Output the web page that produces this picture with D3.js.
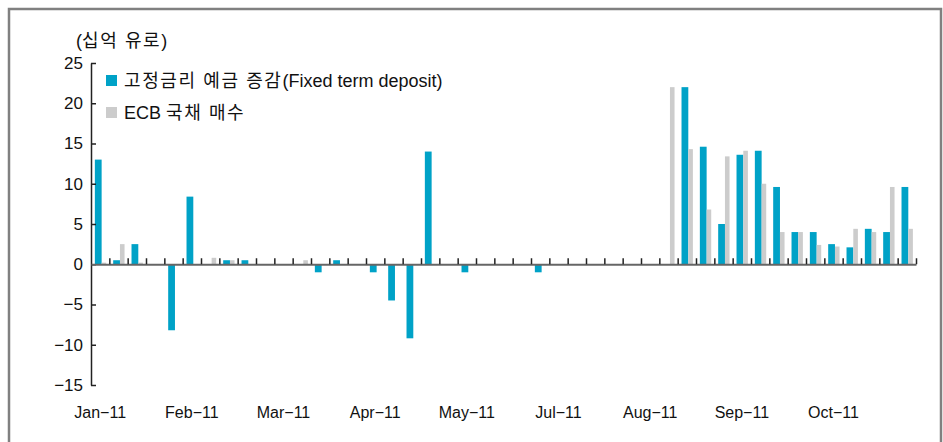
<!DOCTYPE html>
<html>
<head>
<meta charset="utf-8">
<script src="https://cdn.jsdelivr.net/npm/d3@7"></script>
<style>
  body { margin: 0; background: #fff; }
  text { font-family: "Liberation Sans", "Noto Sans CJK KR", sans-serif; fill: #111; }
</style>
</head>
<body>
<div id="chart"></div>
<script>
// weekly observations, Jan-11 .. Oct-11 (45 weeks)
var weeks = d3.range(45);
var monthLabels = ["Jan−11", "Feb−11", "Mar−11", "Apr−11", "May−11", "Jul−11", "Aug−11", "Sep−11", "Oct−11"];
var labelWeeks = [0, 5, 10, 15, 20, 25, 30, 35, 40];
var seriesNames = ["고정금리 예금 증감(Fixed term deposit)", "ECB 국채 매수"];

var fixedDeposit = [
  13.0, 0.5, 2.5, 0, -8.2, 8.4, 0, 0.5, 0.5, 0,
  0, 0, -1.0, 0.5, 0, -1.0, -4.5, -9.2, 14.0, 0,
  -1.0, 0, 0, 0, -1.0, 0, 0, 0, 0, 0,
  0, 0, 22.0, 14.6, 5.0, 13.6, 14.1, 9.6, 4.0, 4.0,
  2.5, 2.1, 4.4, 4.0, 9.6
];
var ecbBuying = [
  0.2, 2.5, 0.2, 0, 0, 0, 0.8, 0.5, 0, 0,
  0, 0.5, 0, 0, 0, 0, 0, 0, 0, 0,
  0, 0, 0, 0, 0, 0, 0, 0, 0, 0,
  0, 22.0, 14.3, 6.8, 13.4, 14.1, 10.0, 4.0, 4.0, 2.4,
  2.2, 4.4, 4.0, 9.6, 4.4
];
var yTicks = [-15, -10, -5, 0, 5, 10, 15, 20, 25];

var W = 943, H = 442;
var colors = ["#00a2c7", "#cccccc"];

var svg = d3.select("#chart").append("svg")
  .attr("width", W).attr("height", H);

// outer frame
svg.append("rect")
  .attr("x", 9).attr("y", 9).attr("width", 932).attr("height", 450)
  .attr("fill", "none").attr("stroke", "#808080").attr("stroke-width", 2.5);

var x = d3.scaleBand().domain(weeks).range([91, 916]).padding(0);
var y = d3.scaleLinear().domain([-15, 25]).range([385, 63]);
var bw = x.bandwidth();

// bars: teal then grey, side by side within each week
var g = svg.append("g");
g.selectAll("rect.fd").data(weeks).enter().append("rect")
  .attr("class", "fd")
  .attr("x", function (d) { return x(d) + bw * 0.21; })
  .attr("width", bw * 0.37)
  .attr("y", function (d) { return y(Math.max(0, fixedDeposit[d])); })
  .attr("height", function (d) { return Math.abs(y(fixedDeposit[d]) - y(0)); })
  .attr("fill", colors[0]);
g.selectAll("rect.ecb").data(weeks).enter().append("rect")
  .attr("class", "ecb")
  .attr("x", function (d) { return x(d) + bw * 0.58; })
  .attr("width", bw * 0.25)
  .attr("y", function (d) { return y(Math.max(0, ecbBuying[d])); })
  .attr("height", function (d) { return Math.abs(y(ecbBuying[d]) - y(0)); })
  .attr("fill", colors[1]);

// y axis, ticks pointing inward
var yAxis = svg.append("g").attr("transform", "translate(91,0)")
  .call(d3.axisLeft(y).tickValues(yTicks).tickSizeInner(-5).tickSizeOuter(0).tickPadding(8)
    .tickFormat(function (d) { return d < 0 ? "−" + Math.abs(d) : d; }));
yAxis.select(".domain").attr("stroke", "#222").attr("stroke-width", 1.5);
yAxis.selectAll(".tick line").attr("stroke", "#222").attr("stroke-width", 1.5);
yAxis.selectAll("text").attr("font-size", 17).attr("fill", "#111")
  .attr("font-family", "Liberation Sans, sans-serif");

// zero line with week boundary ticks
var xb = d3.scaleLinear().domain([0, weeks.length]).range([91, 916]);
var zero = svg.append("g").attr("transform", "translate(0," + y(0) + ")")
  .call(d3.axisTop(xb).tickValues(d3.range(1, weeks.length + 1))
    .tickSizeInner(6).tickSizeOuter(0).tickFormat(""));
zero.select(".domain").attr("stroke", "#666").attr("stroke-width", 2);
zero.selectAll(".tick line").attr("stroke", "#222").attr("stroke-width", 1.5);

// month labels
var xl = svg.append("g").attr("transform", "translate(0,403)")
  .call(d3.axisBottom(x).tickValues(labelWeeks).tickSize(0).tickPadding(4)
    .tickFormat(function (d) { return monthLabels[labelWeeks.indexOf(d)]; }));
xl.select(".domain").remove();
xl.selectAll("text").attr("font-size", 16).attr("fill", "#111")
  .attr("font-family", "Liberation Sans, sans-serif");

// hangul runs get a bit of extra spacing, like the original font
function richText(sel, str) {
  str.split(/([\u3131-\uD79D][\u3131-\uD79D ]*)/).filter(function (s) { return s.length; })
    .forEach(function (part) {
      var t = sel.append("tspan").text(part);
      if (/[\u3131-\uD79D]/.test(part)) t.attr("letter-spacing", 1.6);
    });
}

// unit
richText(svg.append("text").attr("x", 76).attr("y", 47).attr("font-size", 18), "(십억 유로)");

// legend
var leg = svg.append("g");
seriesNames.forEach(function (name, i) {
  leg.append("rect").attr("x", 106).attr("y", 75 + i * 32).attr("width", 11).attr("height", 11)
    .attr("fill", colors[i]);
  richText(leg.append("text").attr("x", 124).attr("y", 87 + i * 32).attr("font-size", 18), name);
});
</script>
</body>
</html>
